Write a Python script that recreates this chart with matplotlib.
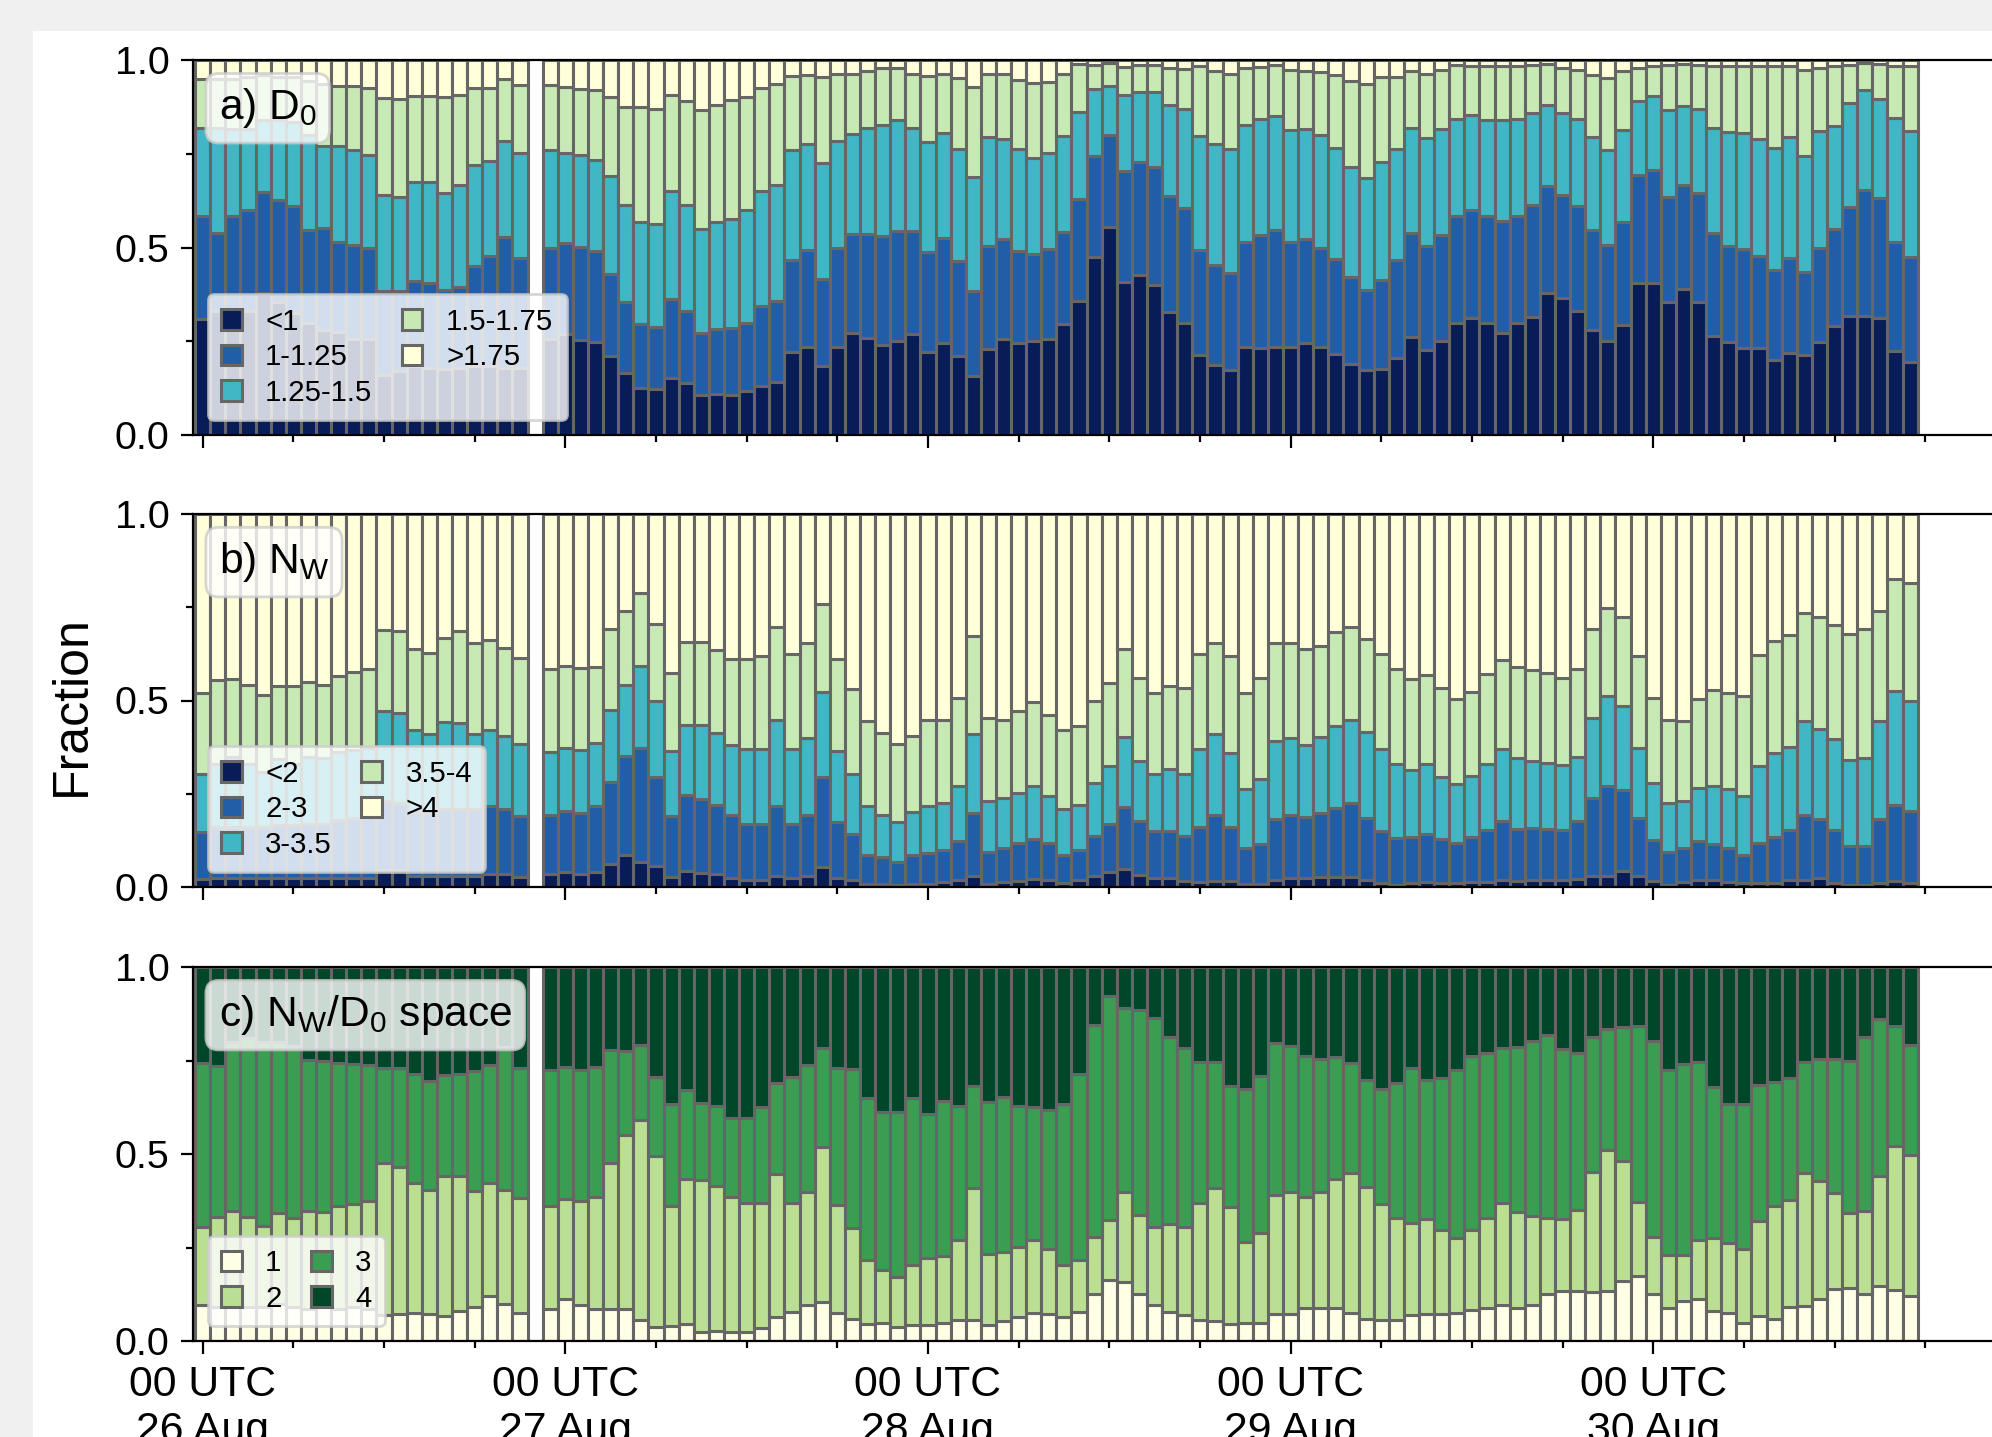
import numpy as np
import matplotlib
matplotlib.use('Agg')
import matplotlib.pyplot as plt
from matplotlib.patches import Rectangle
from matplotlib.ticker import MultipleLocator, FormatStrFormatter

plt.rcParams['font.family'] = ['Liberation Sans', 'DejaVu Sans']
plt.rcParams['mathtext.default'] = 'regular'

# hours since 00 UTC 26 Aug (22 UTC 26 Aug is missing)
hours = [h for h in range(114) if h != 22]

# ---- a) D0: cumulative fraction below each class edge (mm)
d0_lt1 = [0.31, 0.33, 0.32, 0.33, 0.38, 0.355, 0.325, 0.30, 0.28, 0.275, 0.255, 0.255,
          0.16, 0.17, 0.185, 0.18, 0.175, 0.18, 0.185, 0.185, 0.18, 0.18,
          0.255, 0.27, 0.254, 0.248, 0.212, 0.165, 0.126, 0.123, 0.153, 0.139,
          0.108, 0.110, 0.108, 0.117, 0.132, 0.141, 0.221, 0.236, 0.184, 0.236, 0.273, 0.260,
          0.239, 0.251, 0.270, 0.221, 0.246, 0.211, 0.157, 0.230, 0.255, 0.246, 0.251, 0.255,
          0.295, 0.358, 0.474, 0.554, 0.407, 0.426, 0.400, 0.327, 0.299, 0.213, 0.187, 0.173,
          0.236, 0.231, 0.236, 0.236, 0.245, 0.235, 0.217, 0.190, 0.174, 0.176, 0.205, 0.261,
          0.228, 0.250, 0.299, 0.312, 0.300, 0.272, 0.299, 0.315, 0.380, 0.365, 0.332, 0.281,
          0.252, 0.294, 0.405, 0.405, 0.354, 0.389, 0.354, 0.265, 0.247, 0.232, 0.232, 0.201,
          0.220, 0.214, 0.247, 0.290, 0.318, 0.318, 0.312, 0.223, 0.196]
d0_lt125 = [0.583, 0.539, 0.583, 0.599, 0.647, 0.628, 0.610, 0.548, 0.551, 0.516, 0.508, 0.499,
            0.385, 0.385, 0.410, 0.405, 0.388, 0.396, 0.450, 0.478, 0.528, 0.472,
            0.499, 0.512, 0.501, 0.490, 0.430, 0.355, 0.295, 0.288, 0.362, 0.332,
            0.273, 0.282, 0.286, 0.298, 0.344, 0.358, 0.467, 0.494, 0.417, 0.498, 0.536, 0.536,
            0.530, 0.545, 0.545, 0.487, 0.525, 0.465, 0.384, 0.505, 0.523, 0.492, 0.483, 0.496,
            0.541, 0.630, 0.744, 0.801, 0.703, 0.728, 0.715, 0.638, 0.605, 0.493, 0.453, 0.431,
            0.516, 0.533, 0.547, 0.516, 0.524, 0.500, 0.470, 0.421, 0.388, 0.414, 0.466, 0.540,
            0.503, 0.533, 0.583, 0.599, 0.585, 0.570, 0.585, 0.614, 0.665, 0.641, 0.612, 0.546,
            0.508, 0.567, 0.694, 0.706, 0.636, 0.668, 0.645, 0.540, 0.505, 0.496, 0.478, 0.439,
            0.472, 0.436, 0.499, 0.549, 0.608, 0.654, 0.632, 0.514, 0.476]
d0_lt15 = [0.819, 0.820, 0.815, 0.815, 0.840, 0.840, 0.835, 0.800, 0.770, 0.772, 0.759, 0.748,
           0.641, 0.636, 0.674, 0.674, 0.645, 0.668, 0.721, 0.732, 0.783, 0.752,
           0.759, 0.752, 0.746, 0.734, 0.690, 0.614, 0.568, 0.564, 0.651, 0.613,
           0.550, 0.569, 0.576, 0.599, 0.652, 0.667, 0.759, 0.777, 0.726, 0.783, 0.804, 0.819,
           0.828, 0.839, 0.819, 0.781, 0.806, 0.764, 0.688, 0.795, 0.790, 0.762, 0.739, 0.753,
           0.797, 0.862, 0.922, 0.931, 0.906, 0.915, 0.916, 0.880, 0.869, 0.797, 0.776, 0.764,
           0.827, 0.844, 0.851, 0.813, 0.816, 0.801, 0.765, 0.716, 0.686, 0.727, 0.764, 0.819,
           0.792, 0.816, 0.843, 0.854, 0.839, 0.839, 0.843, 0.859, 0.881, 0.859, 0.844, 0.796,
           0.759, 0.814, 0.892, 0.905, 0.866, 0.878, 0.869, 0.819, 0.807, 0.805, 0.789, 0.765,
           0.795, 0.745, 0.810, 0.825, 0.885, 0.921, 0.895, 0.845, 0.810]
d0_lt175 = [0.949, 0.950, 0.950, 0.955, 0.960, 0.955, 0.955, 0.945, 0.935, 0.932, 0.931, 0.925,
            0.898, 0.896, 0.903, 0.905, 0.901, 0.907, 0.925, 0.925, 0.949, 0.934,
            0.934, 0.928, 0.923, 0.921, 0.901, 0.874, 0.875, 0.870, 0.908, 0.890,
            0.866, 0.881, 0.893, 0.902, 0.926, 0.935, 0.958, 0.960, 0.955, 0.962, 0.964, 0.971,
            0.978, 0.978, 0.964, 0.958, 0.964, 0.951, 0.929, 0.964, 0.962, 0.946, 0.938, 0.942,
            0.962, 0.990, 0.987, 0.991, 0.982, 0.987, 0.987, 0.978, 0.975, 0.985, 0.972, 0.964,
            0.978, 0.982, 0.987, 0.973, 0.972, 0.967, 0.960, 0.943, 0.937, 0.955, 0.956, 0.972,
            0.964, 0.974, 0.986, 0.983, 0.983, 0.985, 0.985, 0.988, 0.990, 0.979, 0.974, 0.960,
            0.951, 0.970, 0.979, 0.983, 0.988, 0.989, 0.988, 0.983, 0.983, 0.983, 0.983, 0.983,
            0.983, 0.974, 0.979, 0.983, 0.988, 0.992, 0.990, 0.985, 0.983]

# ---- b) Nw: cumulative fraction below each class edge (log10 Nw)
nw_lt2 = [0.022, 0.025, 0.025, 0.025, 0.025, 0.025, 0.025, 0.025, 0.025, 0.025, 0.025, 0.025,
          0.045, 0.045, 0.030, 0.030, 0.030, 0.030, 0.030, 0.034, 0.034, 0.027,
          0.034, 0.040, 0.036, 0.040, 0.061, 0.087, 0.068, 0.056, 0.026, 0.044,
          0.038, 0.036, 0.024, 0.018, 0.018, 0.029, 0.024, 0.030, 0.054, 0.024, 0.020, 0.009,
          0.009, 0.006, 0.009, 0.009, 0.013, 0.020, 0.030, 0.009, 0.013, 0.015, 0.021, 0.018,
          0.011, 0.018, 0.029, 0.039, 0.048, 0.033, 0.024, 0.024, 0.015, 0.013, 0.015, 0.015,
          0.009, 0.009, 0.020, 0.024, 0.025, 0.028, 0.027, 0.027, 0.018, 0.011, 0.006, 0.011,
          0.013, 0.011, 0.011, 0.013, 0.013, 0.018, 0.015, 0.018, 0.020, 0.020, 0.021, 0.029,
          0.030, 0.042, 0.029, 0.015, 0.006, 0.013, 0.020, 0.018, 0.013, 0.011, 0.011, 0.011,
          0.018, 0.018, 0.024, 0.011, 0.006, 0.006, 0.011, 0.015, 0.011]
nw_lt3 = [0.148, 0.160, 0.160, 0.160, 0.160, 0.165, 0.165, 0.170, 0.170, 0.180, 0.185, 0.190,
          0.230, 0.225, 0.200, 0.200, 0.210, 0.210, 0.210, 0.217, 0.210, 0.190,
          0.192, 0.203, 0.199, 0.217, 0.281, 0.351, 0.373, 0.296, 0.190, 0.247,
          0.235, 0.221, 0.194, 0.170, 0.170, 0.218, 0.170, 0.194, 0.295, 0.174, 0.141, 0.087,
          0.081, 0.066, 0.087, 0.090, 0.100, 0.123, 0.199, 0.093, 0.105, 0.118, 0.129, 0.118,
          0.087, 0.100, 0.138, 0.170, 0.215, 0.176, 0.150, 0.150, 0.138, 0.161, 0.194, 0.161,
          0.105, 0.114, 0.181, 0.192, 0.188, 0.199, 0.212, 0.226, 0.185, 0.150, 0.132, 0.134,
          0.143, 0.129, 0.118, 0.134, 0.152, 0.176, 0.156, 0.158, 0.156, 0.154, 0.176, 0.239,
          0.272, 0.260, 0.185, 0.127, 0.093, 0.105, 0.123, 0.114, 0.105, 0.087, 0.118, 0.134,
          0.154, 0.194, 0.181, 0.152, 0.109, 0.109, 0.181, 0.221, 0.203]
nw_lt35 = [0.302, 0.331, 0.348, 0.331, 0.307, 0.343, 0.329, 0.348, 0.346, 0.361, 0.366, 0.373,
           0.471, 0.467, 0.422, 0.409, 0.442, 0.440, 0.409, 0.420, 0.406, 0.384,
           0.361, 0.373, 0.367, 0.386, 0.474, 0.542, 0.593, 0.498, 0.364, 0.433,
           0.435, 0.414, 0.382, 0.371, 0.371, 0.449, 0.371, 0.400, 0.523, 0.364, 0.304, 0.218,
           0.194, 0.174, 0.201, 0.218, 0.224, 0.272, 0.409, 0.230, 0.239, 0.251, 0.272, 0.245,
           0.208, 0.221, 0.278, 0.324, 0.403, 0.338, 0.302, 0.317, 0.302, 0.371, 0.409, 0.358,
           0.263, 0.290, 0.391, 0.400, 0.382, 0.402, 0.432, 0.449, 0.415, 0.369, 0.329, 0.313,
           0.329, 0.295, 0.275, 0.297, 0.329, 0.369, 0.346, 0.338, 0.333, 0.326, 0.349, 0.454,
           0.512, 0.485, 0.373, 0.278, 0.226, 0.230, 0.266, 0.272, 0.263, 0.244, 0.324, 0.358,
           0.376, 0.445, 0.424, 0.397, 0.340, 0.346, 0.445, 0.526, 0.499]
nw_lt4 = [0.520, 0.556, 0.557, 0.542, 0.516, 0.540, 0.540, 0.549, 0.542, 0.565, 0.576, 0.584,
          0.688, 0.685, 0.638, 0.627, 0.667, 0.685, 0.654, 0.663, 0.641, 0.614,
          0.584, 0.593, 0.587, 0.591, 0.691, 0.739, 0.788, 0.704, 0.575, 0.657,
          0.657, 0.635, 0.612, 0.612, 0.618, 0.696, 0.624, 0.655, 0.758, 0.611, 0.530, 0.445,
          0.414, 0.384, 0.405, 0.448, 0.448, 0.508, 0.673, 0.454, 0.449, 0.472, 0.497, 0.461,
          0.421, 0.432, 0.499, 0.548, 0.637, 0.561, 0.521, 0.539, 0.534, 0.624, 0.655, 0.618,
          0.521, 0.561, 0.655, 0.655, 0.637, 0.646, 0.684, 0.696, 0.666, 0.624, 0.584, 0.557,
          0.568, 0.534, 0.503, 0.523, 0.570, 0.609, 0.591, 0.582, 0.575, 0.561, 0.585, 0.691,
          0.749, 0.725, 0.618, 0.508, 0.448, 0.445, 0.503, 0.528, 0.519, 0.512, 0.621, 0.660,
          0.675, 0.734, 0.725, 0.702, 0.678, 0.693, 0.740, 0.827, 0.815]

# ---- c) Nw/D0 space: cumulative fraction up to regions 1, 2, 3
sp_1 = [0.097, 0.090, 0.095, 0.090, 0.090, 0.100, 0.090, 0.085, 0.090, 0.085, 0.090, 0.085,
        0.070, 0.072, 0.075, 0.073, 0.067, 0.079, 0.092, 0.119, 0.100, 0.076,
        0.086, 0.111, 0.097, 0.086, 0.086, 0.086, 0.056, 0.038, 0.041, 0.045,
        0.024, 0.027, 0.024, 0.024, 0.035, 0.064, 0.078, 0.096, 0.103, 0.075, 0.060, 0.046,
        0.048, 0.038, 0.042, 0.042, 0.048, 0.055, 0.055, 0.042, 0.054, 0.064, 0.075, 0.071,
        0.063, 0.078, 0.127, 0.163, 0.158, 0.127, 0.096, 0.078, 0.069, 0.055, 0.054, 0.045,
        0.048, 0.048, 0.071, 0.071, 0.087, 0.088, 0.088, 0.076, 0.058, 0.055, 0.055, 0.070,
        0.072, 0.072, 0.076, 0.082, 0.088, 0.095, 0.088, 0.095, 0.125, 0.134, 0.134, 0.131,
        0.134, 0.161, 0.175, 0.125, 0.088, 0.106, 0.111, 0.079, 0.076, 0.049, 0.067, 0.058,
        0.091, 0.093, 0.113, 0.138, 0.143, 0.125, 0.147, 0.136, 0.120]
sp_2 = [0.304, 0.331, 0.348, 0.331, 0.307, 0.343, 0.329, 0.348, 0.346, 0.361, 0.366, 0.373,
        0.475, 0.466, 0.422, 0.404, 0.440, 0.440, 0.402, 0.422, 0.404, 0.382,
        0.361, 0.379, 0.373, 0.386, 0.477, 0.550, 0.590, 0.494, 0.362, 0.433,
        0.430, 0.414, 0.386, 0.368, 0.368, 0.446, 0.368, 0.399, 0.520, 0.363, 0.301, 0.216,
        0.191, 0.171, 0.203, 0.221, 0.227, 0.271, 0.408, 0.232, 0.238, 0.252, 0.271, 0.247,
        0.203, 0.216, 0.277, 0.323, 0.399, 0.337, 0.304, 0.313, 0.304, 0.368, 0.408, 0.359,
        0.265, 0.289, 0.390, 0.399, 0.386, 0.398, 0.434, 0.448, 0.413, 0.366, 0.329, 0.316,
        0.325, 0.298, 0.275, 0.298, 0.329, 0.370, 0.346, 0.334, 0.329, 0.325, 0.349, 0.452,
        0.511, 0.480, 0.372, 0.279, 0.229, 0.229, 0.270, 0.275, 0.261, 0.246, 0.322, 0.361,
        0.377, 0.448, 0.428, 0.395, 0.343, 0.348, 0.440, 0.522, 0.498]
sp_3 = [0.742, 0.735, 0.800, 0.810, 0.800, 0.800, 0.790, 0.752, 0.750, 0.742, 0.740, 0.737,
        0.729, 0.730, 0.715, 0.694, 0.712, 0.713, 0.722, 0.737, 0.785, 0.731,
        0.725, 0.732, 0.725, 0.732, 0.777, 0.775, 0.791, 0.705, 0.634, 0.671,
        0.636, 0.629, 0.596, 0.596, 0.627, 0.689, 0.707, 0.738, 0.783, 0.729, 0.727, 0.649,
        0.611, 0.611, 0.649, 0.607, 0.643, 0.629, 0.682, 0.638, 0.652, 0.629, 0.627, 0.618,
        0.634, 0.714, 0.846, 0.923, 0.890, 0.886, 0.863, 0.813, 0.783, 0.747, 0.747, 0.682,
        0.673, 0.709, 0.796, 0.788, 0.763, 0.755, 0.759, 0.743, 0.698, 0.675, 0.689, 0.730,
        0.698, 0.702, 0.725, 0.762, 0.771, 0.784, 0.786, 0.803, 0.819, 0.780, 0.771, 0.813,
        0.834, 0.839, 0.841, 0.803, 0.725, 0.741, 0.746, 0.680, 0.634, 0.634, 0.684, 0.692,
        0.704, 0.746, 0.755, 0.755, 0.750, 0.812, 0.862, 0.841, 0.792]

d0_labels = ['<1', '1-1.25', '1.25-1.5', '1.5-1.75', '>1.75']
nw_labels = ['<2', '2-3', '3-3.5', '3.5-4', '>4']
sp_labels = ['1', '2', '3', '4']
day_ticks = [0, 24, 48, 72, 96]
day_labels = ['00 UTC\n26 Aug', '00 UTC\n27 Aug', '00 UTC\n28 Aug',
              '00 UTC\n29 Aug', '00 UTC\n30 Aug']

blues = ['#081d58', '#225ea8', '#41b6c4', '#c7e9b4', '#ffffd9']
greens = ['#ffffe5', '#badf93', '#3a9d52', '#00472a']


def stacked(ax, x, cum, colors, labels):
    x = np.asarray(x, dtype=float)
    bottom = np.zeros(len(x))
    for top, c, lab in zip(list(cum) + [np.ones(len(x))], colors, labels):
        top = np.asarray(top, dtype=float)
        ax.bar(x, top - bottom, bottom=bottom, width=1.0, color=c,
               edgecolor='#666666', linewidth=1.1, label=lab)
        bottom = top


W, H = 1992, 1437
fig = plt.figure(figsize=(W / 200, H / 200), dpi=200)
fig.patch.set_facecolor('#f0f0f0')
fig.add_artist(Rectangle((33 / W, 0), 1, 1 - 31 / H, transform=fig.transFigure,
                         facecolor='white', edgecolor='none', zorder=-5))

x0, x1 = -0.64, 119.6
px_per_hour = 15.11
left = 193 / W
width = (x1 - x0) * px_per_hour / W
panel_px = [(60, 435), (514, 887), (967, 1341)]
axes = [fig.add_axes([left, 1 - b / H, width, (b - t) / H]) for t, b in panel_px]

stacked(axes[0], hours, [d0_lt1, d0_lt125, d0_lt15, d0_lt175], blues, d0_labels)
stacked(axes[1], hours, [nw_lt2, nw_lt3, nw_lt35, nw_lt4], blues, nw_labels)
stacked(axes[2], hours, [sp_1, sp_2, sp_3], greens, sp_labels)

titles = [r'a) $D_0$', r'b) $N_W$', r'c) $N_W/D_0$ space']
for ax, title in zip(axes, titles):
    ax.set_xlim(x0, x1)
    ax.set_ylim(0, 1)
    ax.set_xticks(day_ticks)
    ax.xaxis.set_minor_locator(MultipleLocator(6))
    ax.yaxis.set_major_locator(MultipleLocator(0.5))
    ax.yaxis.set_minor_locator(MultipleLocator(0.25))
    ax.yaxis.set_major_formatter(FormatStrFormatter('%.1f'))
    ax.tick_params(which='major', length=4.5, width=0.8, pad=4)
    ax.tick_params(which='minor', length=2.4, width=0.8)
    ax.tick_params(axis='y', labelsize=14.2)
    ax.tick_params(axis='x', labelsize=15.4)
    ax.text(0.0141, 0.93, title, transform=ax.transAxes, fontsize=15.3, va='top', ha='left',
            bbox=dict(boxstyle='round,pad=0.3', facecolor='white', edgecolor='0.8', alpha=0.8))
    ax.legend(loc='lower left', ncol=2, fontsize=10.6, handlelength=0.7, handleheight=0.7,
              handletextpad=0.8, columnspacing=1.0, labelspacing=0.26, borderpad=0.45,
              borderaxespad=0.5)

axes[0].tick_params(labelbottom=False)
axes[1].tick_params(labelbottom=False)
axes[2].set_xticklabels(day_labels)

fig.text(72 / W, 1 - 706 / H, 'Fraction', rotation=90, ha='center', va='center', fontsize=18)

fig.savefig('out.png', dpi=200, facecolor=fig.get_facecolor())
